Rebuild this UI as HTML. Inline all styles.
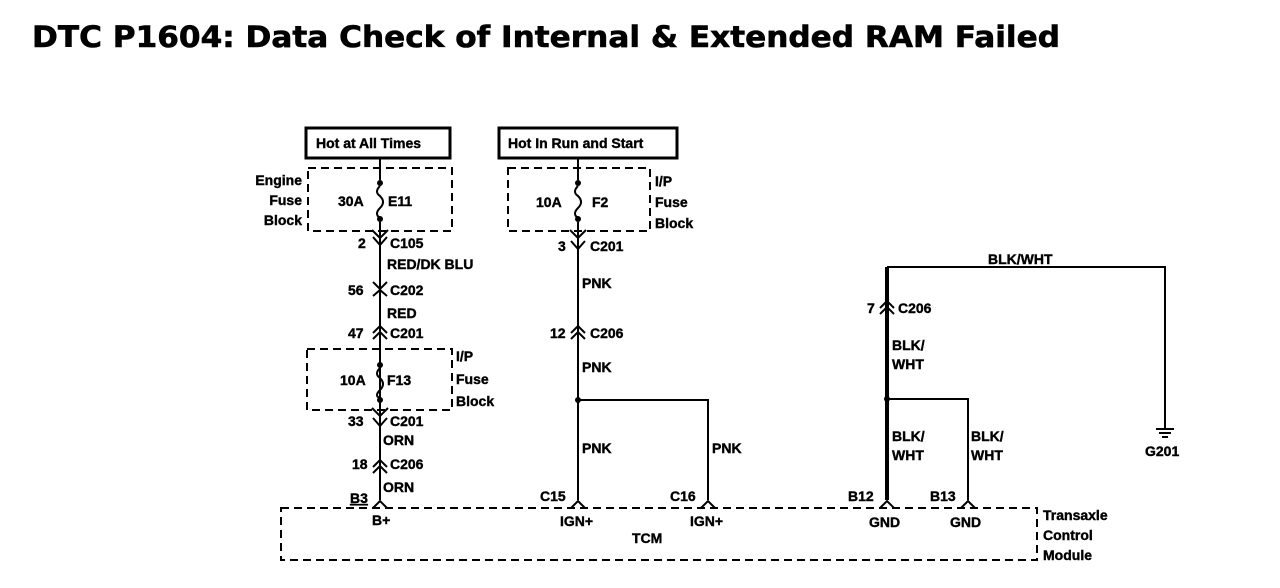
<!DOCTYPE html>
<html><head><meta charset="utf-8"><style>
html,body{margin:0;padding:0;background:#fff;}
svg{display:block;}
text{font-family:"Liberation Sans",Arial,sans-serif;font-weight:bold;font-size:14px;fill:#000;stroke:#000;stroke-width:0.4px;}
.t{font-family:"DejaVu Sans","Liberation Sans",sans-serif;font-size:29px;stroke-width:0.6px;}
</style></head><body>
<svg width="1280" height="588" viewBox="0 0 1280 588" xmlns="http://www.w3.org/2000/svg">
<text class="t" x="32" y="47" textLength="1028" lengthAdjust="spacingAndGlyphs">DTC P1604: Data Check of Internal &amp; Extended RAM Failed</text>

<g fill="none" stroke="#000">
<rect x="306" y="128" width="144" height="30" stroke-width="3"/>
<rect x="499" y="128" width="178" height="30" stroke-width="3"/>
<g stroke-width="2" stroke-dasharray="8,5">
<rect x="308" y="168" width="144" height="63"/>
<rect x="508" y="168" width="142" height="63"/>
<rect x="307" y="349" width="145" height="61"/>
<rect x="281" y="508" width="756" height="52"/>
</g>
<g stroke-width="2">
<path d="M380 158V180M380 222V500"/>
<path d="M380 186 q-6 6 0 10 q6 6 0 12 q-6 6 0 10"/>
<path d="M380 352V362M380 402V500"/>
<path d="M380 368 q-6 6 0 10 q6 6 0 12 q-6 6 0 8"/>
<path d="M578 158V180M578 222V500"/>
<path d="M578 186 q-6 6 0 10 q6 6 0 12 q-6 6 0 10"/>
<path d="M578 400H708V500"/>
<path d="M887 267H1165V428"/>
<path d="M887 399H968V500"/>
<path d="M1156 429h18M1159 433h12M1162 437h6"/>
<path d="M373 237l7 8 7-8"/>
<path d="M373 282l7 7 7-7M373 296l7-6 7 6"/>
<path d="M571 241l7 8 7-8"/>
<path d="M373 418l7 8 7-8"/>
<path d="M373 333l7-7 7 7M373 339l7-7 7 7"/>
<path d="M571 333l7-7 7 7M571 339l7-7 7 7"/>
<path d="M373 467l7-7 7 7M373 473l7-7 7 7"/>
<path d="M880 308l7-7 7 7M880 314l7-7 7 7"/>
<path d="M372 230l8 8 8-8M372 408l8 8 8-8M570 230l8 8 8-8"/>
<path d="M373 508l7-7 7 7M571 508l7-7 7 7M701 508l7-7 7 7M880 508l7-7 7 7M961 508l7-7 7 7"/>
</g>
<path d="M887 267V500" stroke-width="4"/>
</g>
<g fill="#000">
<circle cx="380" cy="183" r="3"/><circle cx="380" cy="219" r="3"/>
<circle cx="380" cy="365" r="3"/><circle cx="380" cy="400" r="3"/>
<circle cx="578" cy="183" r="3"/><circle cx="578" cy="219" r="3"/>
<circle cx="578" cy="400" r="3"/><circle cx="887" cy="399" r="3"/>
</g>

<text x="316" y="148">Hot at All Times</text>
<text x="508" y="148">Hot In Run and Start</text>
<g text-anchor="end"><text x="302" y="185">Engine</text><text x="302" y="205">Fuse</text><text x="302" y="225">Block</text></g>
<text x="338" y="206">30A</text><text x="388" y="206">E11</text>
<text x="536" y="207">10A</text><text x="592" y="207">F2</text>
<text x="655" y="186">I/P</text><text x="655" y="207">Fuse</text><text x="655" y="228">Block</text>
<text x="358" y="248">2</text><text x="390" y="248">C105</text>
<text x="387" y="269">RED/DK BLU</text>
<text x="348" y="295">56</text><text x="390" y="295">C202</text>
<text x="387" y="318">RED</text>
<text x="348" y="338">47</text><text x="390" y="338">C201</text>
<text x="340" y="385">10A</text><text x="387" y="385">F13</text>
<text x="456" y="361">I/P</text><text x="456" y="384">Fuse</text><text x="456" y="406">Block</text>
<text x="348" y="426">33</text><text x="390" y="426">C201</text>
<text x="383" y="445">ORN</text>
<text x="352" y="469">18</text><text x="390" y="469">C206</text>
<text x="383" y="492">ORN</text>
<text x="350" y="503" text-decoration="underline">B3</text>
<text x="558" y="251">3</text><text x="590" y="251">C201</text>
<text x="582" y="288">PNK</text>
<text x="550" y="338">12</text><text x="590" y="338">C206</text>
<text x="582" y="372">PNK</text>
<text x="582" y="453">PNK</text><text x="712" y="453">PNK</text>
<text x="540" y="501">C15</text><text x="670" y="501">C16</text>
<text x="988" y="264">BLK/WHT</text>
<text x="867" y="313">7</text><text x="898" y="313">C206</text>
<text x="892" y="350">BLK/</text><text x="892" y="369">WHT</text>
<text x="892" y="441">BLK/</text><text x="892" y="460">WHT</text>
<text x="971" y="441">BLK/</text><text x="971" y="460">WHT</text>
<text x="1145" y="456">G201</text>
<text x="848" y="501">B12</text><text x="930" y="501">B13</text>
<text x="372" y="525">B+</text>
<text x="560" y="526">IGN+</text><text x="690" y="526">IGN+</text>
<text x="632" y="543">TCM</text>
<text x="869" y="527">GND</text><text x="950" y="527">GND</text>
<text x="1043" y="520">Transaxle</text><text x="1043" y="540">Control</text><text x="1043" y="560">Module</text>
</svg>
</body></html>
